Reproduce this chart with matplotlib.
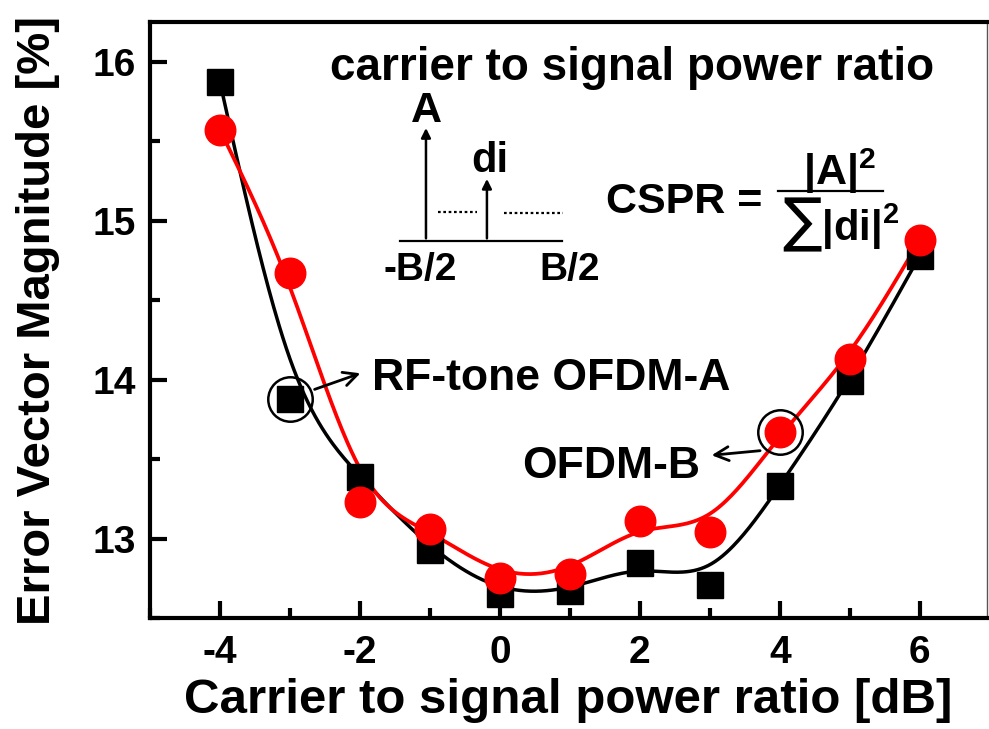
import numpy as np
import matplotlib.pyplot as plt
from matplotlib.ticker import MultipleLocator

# data
cspr = [-4, -3, -2, -1, 0, 1, 2, 3, 4, 5, 6]
evm_rf_tone = [15.87, 13.88, 13.39, 12.93, 12.65, 12.67, 12.85, 12.71, 13.33, 13.99, 14.78]
evm_ofdm_b = [15.57, 14.67, 13.23, 13.06, 12.75, 12.78, 13.11, 13.04, 13.67, 14.13, 14.88]


def bspline(x, y, n=40):
    # uniform cubic B-spline with control points at the data (Origin-like smoothing)
    x = np.asarray(x, float)
    y = np.asarray(y, float)
    px = np.concatenate([[2 * x[0] - x[1]], x, [2 * x[-1] - x[-2]]])
    py = np.concatenate([[2 * y[0] - y[1]], y, [2 * y[-1] - y[-2]]])
    t = np.linspace(0, 1, n)
    b = [(1 - t) ** 3 / 6, (3 * t ** 3 - 6 * t ** 2 + 4) / 6,
         (-3 * t ** 3 + 3 * t ** 2 + 3 * t + 1) / 6, t ** 3 / 6]
    xs, ys = [], []
    for i in range(len(px) - 3):
        xs.append(sum(b[k] * px[i + k] for k in range(4)))
        ys.append(sum(b[k] * py[i + k] for k in range(4)))
    return np.concatenate(xs), np.concatenate(ys)


if __name__ == "__main__":
    plt.rcParams['font.family'] = ['Liberation Sans', 'DejaVu Sans']
    plt.rcParams['font.weight'] = 'bold'
    plt.rcParams['axes.unicode_minus'] = False
    plt.rcParams['mathtext.default'] = 'regular'

    fig = plt.figure(figsize=(9.89, 7.29), dpi=100)
    ax = fig.add_axes([0.1517, 0.152, 0.8463, 0.818])

    xa, ya = bspline(cspr, evm_rf_tone)
    xb, yb = bspline(cspr, evm_ofdm_b)
    ax.plot(xa, ya, color='black', lw=2.5, zorder=2)
    ax.plot(xb, yb, color='red', lw=2.7, zorder=3)
    ax.plot(cspr, evm_rf_tone, 's', color='black', markersize=19, zorder=4)
    ax.plot(cspr, evm_ofdm_b, 'o', color='red', markersize=22, zorder=5)

    ax.set_xlim(-5, 6.96)
    ax.set_ylim(12.5, 16.25)
    ax.xaxis.set_major_locator(MultipleLocator(2))
    ax.xaxis.set_minor_locator(MultipleLocator(1))
    ax.yaxis.set_major_locator(MultipleLocator(1))
    ax.yaxis.set_minor_locator(MultipleLocator(0.5))
    ax.tick_params(which='both', direction='in', width=3, labelsize=28)
    ax.tick_params(which='major', length=12)
    ax.tick_params(which='minor', length=7)
    ax.tick_params(axis='x', pad=12)
    ax.tick_params(axis='y', pad=10)
    for side in ['left', 'bottom', 'top']:
        ax.spines[side].set_linewidth(3)
    ax.spines['right'].set_linewidth(1)
    ax.spines['right'].set_color('#555555')

    ax.set_xlabel('Carrier to signal power ratio [dB]', fontsize=35.5, fontweight='bold')
    ax.set_ylabel('Error Vector Magnitude [%]', fontsize=34, fontweight='bold')
    ax.yaxis.set_label_coords(-0.108, 0.5)
    ax.xaxis.set_label_coords(0.5, -0.1)

    # annotation circles and arrows
    ax.plot(cspr[1], evm_rf_tone[1], 'o', mfc='none', mec='black', mew=1.8, markersize=32, zorder=6)
    ax.plot(cspr[8], evm_ofdm_b[8], 'o', mfc='none', mec='black', mew=1.8, markersize=32, zorder=6)
    ax.annotate('', xy=(-1.957, 14.046), xytext=(-2.686, 13.933),
                arrowprops=dict(arrowstyle='->', lw=2, color='black', mutation_scale=25))
    ax.annotate('', xy=(2.986, 13.523), xytext=(3.757, 13.555),
                arrowprops=dict(arrowstyle='->', lw=2, color='black', mutation_scale=25))
    ax.text(-1.829, 13.933, 'RF-tone OFDM-A', fontsize=32, fontweight='bold', va='baseline', ha='left')
    ax.text(2.857, 13.384, 'OFDM-B', fontsize=32, fontweight='bold', va='baseline', ha='right')

    # inset sketch
    ax.text(1.886, 15.886, 'carrier to signal power ratio', fontsize=33, fontweight='bold',
            va='baseline', ha='center')
    ax.plot([-1.429, 0.886], [14.871, 14.871], color='black', lw=1.6)
    ax.annotate('', xy=(-1.057, 15.60), xytext=(-1.057, 14.871),
                arrowprops=dict(arrowstyle='-|>', lw=1.8, color='black', mutation_scale=14))
    ax.annotate('', xy=(-0.186, 15.28), xytext=(-0.186, 14.871),
                arrowprops=dict(arrowstyle='-|>', lw=1.8, color='black', mutation_scale=14))
    ax.plot([-0.886, -0.329], [15.054, 15.054], color='black', lw=1.6, ls=(0, (1.2, 1.2)))
    ax.plot([0.057, 0.9], [15.048, 15.048], color='black', lw=1.6, ls=(0, (1.2, 1.2)))
    ax.text(-1.057, 15.62, 'A', fontsize=31, fontweight='bold', va='baseline', ha='center')
    ax.text(-0.15, 15.306, 'di', fontsize=30, fontweight='bold', va='baseline', ha='center')
    ax.text(-1.143, 14.626, '-B/2', fontsize=28, fontweight='bold', va='baseline', ha='center')
    ax.text(1.0, 14.626, 'B/2', fontsize=28, fontweight='bold', va='baseline', ha='center')

    # CSPR formula
    ax.text(2.629, 15.048, 'CSPR =', fontsize=31, fontweight='bold', va='baseline', ha='center')
    ax.text(4.857, 15.224, r'|A|$^{2}$', fontsize=31, fontweight='bold', va='baseline', ha='center')
    ax.plot([3.971, 5.471], [15.186, 15.186], color='black', lw=1.6)
    ax.text(4.871, 14.878, r'∑|di|$^{2}$', fontsize=30, fontweight='bold', va='baseline', ha='center')

    plt.savefig('out.png', dpi=100)
